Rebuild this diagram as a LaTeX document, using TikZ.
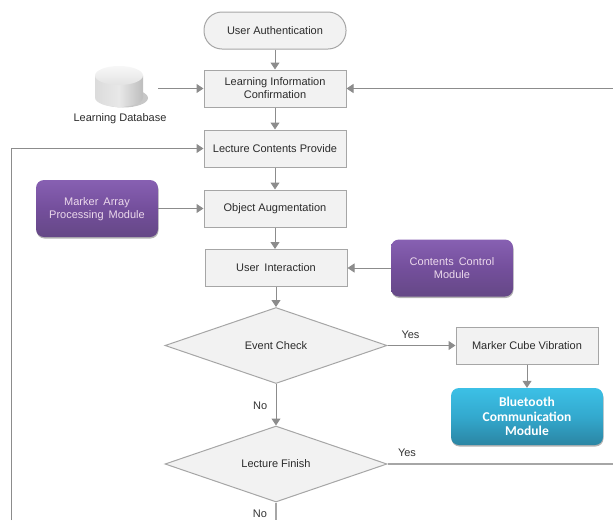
\documentclass[tikz,border=0pt]{standalone}
\usepackage{fontspec}
\setmainfont{Liberation Sans}
\newfontfamily\modulefont{Carlito}
\usetikzlibrary{arrows.meta,shapes.geometric,shadows}

\definecolor{boxfill}{HTML}{F2F2F2}
\definecolor{boxline}{HTML}{A6A6A6}
\definecolor{arrowline}{HTML}{8C8C8C}
\definecolor{labeltext}{HTML}{2B2B2B}
\definecolor{purpleTop}{HTML}{8760B2}
\definecolor{purpleMid}{HTML}{744F9C}
\definecolor{purpleBottom}{HTML}{654886}
\definecolor{blueTop}{HTML}{3CC0E6}
\definecolor{blueMid}{HTML}{33A9CE}
\definecolor{blueBottom}{HTML}{2B85A3}
\newcommand{\widegap}{\hspace{2pt}}

\tikzset{
  every node/.style={font=\fontsize{11}{13}\selectfont, text=labeltext, align=center},
  flowbox/.style={shape=rectangle, draw=boxline, fill=boxfill, line width=1pt, minimum width=142pt, minimum height=37pt, inner sep=0pt},
  startbox/.style={flowbox, rounded corners=18pt},
  checkbox/.style={shape=diamond, draw=boxline, fill=boxfill, line width=1pt, minimum width=222pt, minimum height=76pt, aspect=2.9, inner sep=0pt},
  modulebox/.style={shape=rectangle, rounded corners=8pt, minimum width=122pt, minimum height=57pt, inner sep=0pt, text=white!85!violet, drop shadow={shadow xshift=0.5pt, shadow yshift=-1.5pt, opacity=0.6}},
  purplebox/.style={modulebox, top color=purpleTop, bottom color=purpleBottom, middle color=purpleMid},
  bluebox/.style={modulebox, top color=blueTop, bottom color=blueBottom, middle color=blueMid, minimum width=152pt, text=white, font=\modulefont\bfseries\fontsize{13.5}{14.5}\selectfont},
  flowline/.style={draw=arrowline, line width=1pt, -{Triangle[length=7pt, width=9pt]}},
  plainline/.style={draw=boxline, line width=1.1pt},
  answer/.style={text=black!80}
}

\begin{document}
\begin{tikzpicture}[x=1pt, y=1pt, node distance=60pt]
\useasboundingbox (0,0) rectangle (613,-520);

\node [startbox] (Auth) at (275,-30.5) {User Authentication};
\node [flowbox, below of=Auth, node distance=58pt] (Confirm) {Learning Information\\Confirmation};
\node [flowbox, below of=Confirm] (Provide) {Lecture Contents Provide};
\node [flowbox, below of=Provide] (Augment) {Object Augmentation};
\node [flowbox, below of=Augment, node distance=59.5pt, xshift=1pt] (Interact) {User \widegap Interaction};
\node [checkbox, below of=Interact, node distance=77.5pt] (Event) {Event Check};
\node [checkbox, below of=Event, node distance=118.5pt] (Finish) {Lecture Finish};
\node [flowbox, right of=Event, node distance=251pt] (Vibrate) {Marker Cube Vibration};
\node [bluebox, below of=Vibrate, node distance=71pt] (Bluetooth) {Bluetooth\\Communication\\Module};
\node [purplebox, right of=Interact, node distance=176pt] (Control) {Contents \widegap Control\\Module};
\node [purplebox, left of=Augment, node distance=178pt, text depth=-1pt] (Marker) {Marker \widegap Array\\Processing \widegap Module};

% database drum
\fill [black!22] (123,-98) ellipse (25pt and 9.5pt);
\path [left color=black!14, right color=black!26, middle color=black!9] (95,-75.5) -- (95,-97.5) arc (180:360:24pt and 9.5pt) -- (143,-75.5) -- cycle;
\path [top color=black!3, bottom color=black!11] (119,-75.5) ellipse (24pt and 9.5pt);
\coordinate (Drum) at (120,-87);
\node [below of=Drum, node distance=32pt] (DrumLabel) {Learning Database};

\coordinate (DrumOut) at (158,-88.5);
\coordinate (RightIn) at (613,-88.5);
\coordinate (RightOut) at (613,-464);
\coordinate (LoopEnd) at (11,-520);
\coordinate (LoopTurn) at (11,-148.5);
\coordinate (FinishEnd) at (276,-520);

\draw [flowline] (Auth) -- (Confirm);
\draw [flowline] (Confirm) -- (Provide);
\draw [flowline] (Provide) -- (Augment);
\draw [flowline] (Augment.south) -- (Augment.south |- Interact.north);
\draw [flowline] (Interact) -- (Event);
\draw [flowline] (Event) -- node [answer, left, xshift=-5pt, yshift=-1pt] (EventNo) {No} (Finish);
\draw [flowline] (Event) -- node [answer, above, xshift=-11pt, yshift=3pt] (EventYes) {Yes} (Vibrate);
\draw [flowline] (Vibrate) -- (Bluetooth);
\draw [flowline] (DrumOut) -- (Confirm);
\draw [flowline] (RightIn) -- (Confirm);
\draw [flowline] (Marker) -- (Augment);
\draw [flowline] (Control) -- (Interact);
\draw [flowline] (LoopEnd) -- (LoopTurn) -- (Provide);
\draw [plainline] (Finish) -- (RightOut);
\node [answer, above of=Finish, node distance=11pt, xshift=131pt] (FinishYes) {Yes};
\draw [plainline] (Finish) -- (FinishEnd);
\node [answer, left of=FinishEnd, node distance=16pt, yshift=6pt] (FinishNo) {No};
\end{tikzpicture}
\end{document}
